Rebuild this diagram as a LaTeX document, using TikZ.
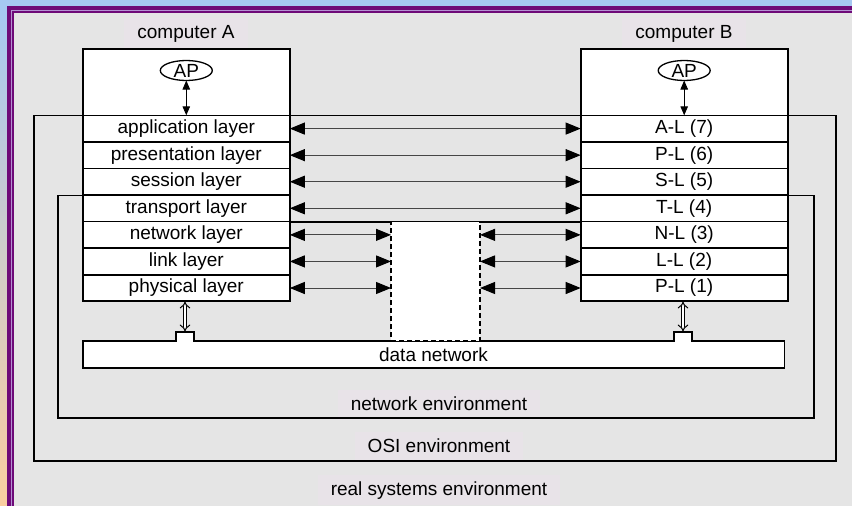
\documentclass[tikz,border=0pt]{standalone}
\usepackage{fontspec}
\setmainfont{Liberation Sans}
\usetikzlibrary{arrows.meta, positioning, shapes.geometric}

\definecolor{bandblue}{RGB}{166,200,242}
\definecolor{bandpeach}{RGB}{250,206,160}
\definecolor{framepurple}{RGB}{110,10,120}
\definecolor{framelav}{RGB}{180,145,210}
\definecolor{bggray}{RGB}{229,229,229}
\definecolor{labelbg}{RGB}{232,227,232}
\definecolor{arrowgray}{RGB}{70,70,70}

\begin{document}
\begin{tikzpicture}[x=1pt, y=-1pt, font=\fontsize{19}{22}\selectfont,
    host/.style={draw, line width=1.6pt, fill=white, outer sep=0pt, inner sep=0pt, minimum width=207pt, minimum height=66.3pt},
    layer/.style={draw, line width=1.6pt, fill=white, outer sep=0pt, inner sep=0pt, minimum width=207pt, minimum height=26.57pt},
    ap/.style={ellipse, draw, line width=1.3pt, outer sep=0pt, inner sep=0pt, minimum width=52pt, minimum height=20pt},
    envlabel/.style={fill=labelbg, inner xsep=13pt, inner ysep=6pt, text height=14pt, text depth=4pt},
    envline/.style={line width=1.6pt},
    relaybox/.style={draw, dash pattern=on 5pt off 3pt, line width=1.4pt, fill=white, outer sep=0pt, minimum width=89pt, minimum height=119.3pt},
    peer/.style={{Triangle[length=15pt,width=12pt,color=black]}-{Triangle[length=15pt,width=12pt,color=black]}, line width=1pt, draw=arrowgray},
    apline/.style={{Triangle[length=9pt,width=7.5pt]}-{Triangle[length=9pt,width=7.5pt]}, line width=0.9pt},
    tapline/.style={{Implies}-{Implies}, double, double distance=2.6pt, line width=1pt}]

\useasboundingbox (0,0) rectangle (852,506);

% frame
\fill[bandblue] (0,0) rectangle (852,7);
\shade[top color=bandblue, bottom color=bandpeach] (0,7) rectangle (7,506);
\fill[framepurple] (7,6) rectangle (852,506);
\fill[framelav] (11,10) rectangle (852,506);
\fill[framepurple] (12,11) rectangle (852,506);
\fill[bggray] (13.5,12.5) rectangle (852,506);

% environment labels
\node[envlabel] (labA) at (186,33) {computer A};
\node[envlabel] (labB) at (684,33) {computer B};
\node[envlabel] (netenv) at (439,405) {network environment};
\node[envlabel] (osienv) at (439,447) {OSI environment};
\node[envlabel] (realenv) at (439,490) {real systems environment};

% environments
\draw[envline] (34,115.3) rectangle (835.7,461);
\draw[envline] (58,195.5) -- (290,195.5) -- (290,221.7) -- (581,221.7) -- (581,195.5)
    -- (814,195.5) -- (814,418) -- (58,418) -- cycle;

% computer A
\node[host] (hostA) at (186.3,82.15) {};
\node[ap] (apA) at (186.3,70.5) {AP};
\node[layer, below=0pt of hostA] (appA) {application layer};
\node[layer, below=0pt of appA] (preA) {presentation layer};
\node[layer, below=0pt of preA] (sesA) {session layer};
\node[layer, below=0pt of sesA] (traA) {transport layer};
\node[layer, below=0pt of traA] (netA) {network layer};
\node[layer, below=0pt of netA] (linA) {link layer};
\node[layer, below=0pt of linA] (phyA) {physical layer};

% computer B
\node[host] (hostB) at (684.2,82.15) {};
\node[ap] (apB) at (684.2,70.5) {AP};
\node[layer, below=0pt of hostB] (appB) {A-L (7)};
\node[layer, below=0pt of appB] (preB) {P-L (6)};
\node[layer, below=0pt of preB] (sesB) {S-L (5)};
\node[layer, below=0pt of sesB] (traB) {T-L (4)};
\node[layer, below=0pt of traB] (netB) {N-L (3)};
\node[layer, below=0pt of netB] (linB) {L-L (2)};
\node[layer, below=0pt of linB] (phyB) {P-L (1)};

% data network
\coordinate (tapA) at (185,331.7);
\coordinate (tapB) at (683,331.7);
\draw[line width=1.6pt, fill=white] (82.7,341) -- (176,341) -- (176,331.7) -- (194,331.7) -- (194,341)
    -- (674,341) -- (674,331.7) -- (692,331.7) -- (692,341) -- (784.3,341) -- (784.3,367.7)
    -- (82.7,367.7) -- cycle;
\node (datanet) at (433.5,354.5) {data network};
\node[relaybox] (relay) at (435.5,281.35) {};

% connectors
\draw[apline] (apA) -- (appA);
\draw[apline] (apB) -- (appB);
\draw[peer] (appA) -- (appB);
\draw[peer] (preA) -- (preB);
\draw[peer] (sesA) -- (sesB);
\draw[peer] (traA) -- (traB);
\draw[peer] (netA) -- (netA -| relay.west);
\draw[peer] (linA) -- (linA -| relay.west);
\draw[peer] (phyA) -- (phyA -| relay.west);
\draw[peer] (relay.east |- netB) -- (netB);
\draw[peer] (relay.east |- linB) -- (linB);
\draw[peer] (relay.east |- phyB) -- (phyB);
\draw[tapline] (phyA.south -| tapA) -- (tapA);
\draw[tapline] (phyB.south -| tapB) -- (tapB);
\end{tikzpicture}
\end{document}
